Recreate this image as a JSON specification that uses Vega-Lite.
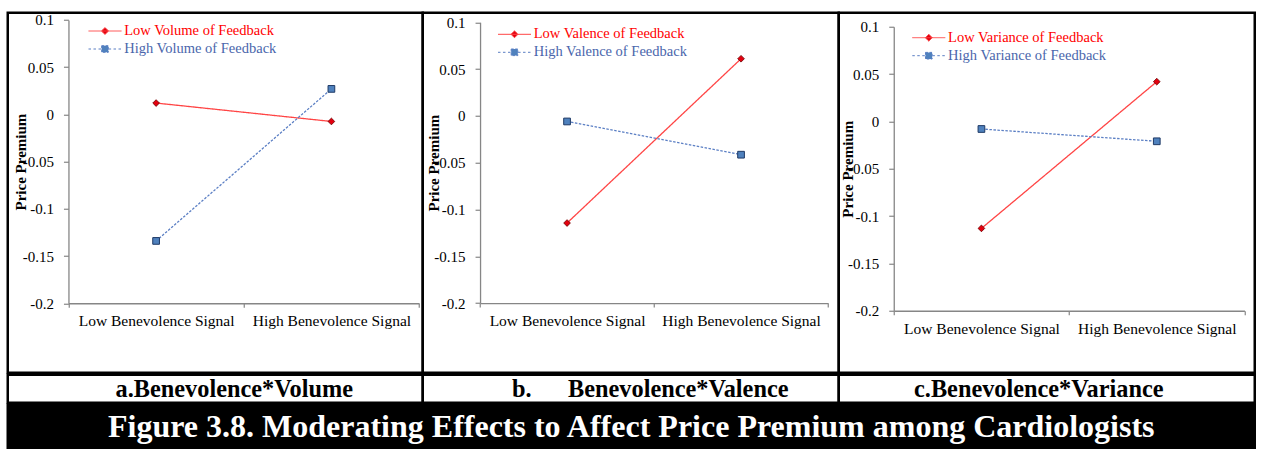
{
  "$schema": "https://vega.github.io/schema/vega-lite/v6.json",
  "padding": {"left": 5.75, "top": 10.75, "right": 0, "bottom": 0},
  "background": "white",
  "config": {
    "font": "Liberation Serif",
    "view": {"stroke": "black", "strokeWidth": 2.5},
    "axis": {"grid": false, "domainColor": "#868686", "tickColor": "#868686", "domainWidth": 1.3, "tickWidth": 1.2, "labelColor": "black", "labelFont": "Liberation Serif", "titleFont": "Liberation Serif", "titleColor": "black"},
    "legend": {"labelFont": "Liberation Serif"},
    "text": {"font": "Liberation Serif"}
  },
  "datasets": {
    "volume": [
      {"signal": "Low Benevolence Signal", "series": "Low Volume of Feedback", "value": 0.012},
      {"signal": "High Benevolence Signal", "series": "Low Volume of Feedback", "value": -0.0075},
      {"signal": "Low Benevolence Signal", "series": "High Volume of Feedback", "value": -0.134},
      {"signal": "High Benevolence Signal", "series": "High Volume of Feedback", "value": 0.027}
    ],
    "valence": [
      {"signal": "Low Benevolence Signal", "series": "Low Valence of Feedback", "value": -0.1145},
      {"signal": "High Benevolence Signal", "series": "Low Valence of Feedback", "value": 0.061},
      {"signal": "Low Benevolence Signal", "series": "High Valence of Feedback", "value": -0.006},
      {"signal": "High Benevolence Signal", "series": "High Valence of Feedback", "value": -0.0415}
    ],
    "variance": [
      {"signal": "Low Benevolence Signal", "series": "Low Variance of Feedback", "value": -0.113},
      {"signal": "High Benevolence Signal", "series": "Low Variance of Feedback", "value": 0.042},
      {"signal": "Low Benevolence Signal", "series": "High Variance of Feedback", "value": -0.008},
      {"signal": "High Benevolence Signal", "series": "High Variance of Feedback", "value": -0.021}
    ]
  },
  "vconcat": [
    {
      "hconcat": [
        {
          "width": 415, "height": 360,
          "data": {"name": "volume"},
          "layer": [
            {
              "mark": {"type": "line", "strokeWidth": 1.3},
              "encoding": {
                "x": {"field": "signal", "type": "nominal", "sort": ["Low Benevolence Signal", "High Benevolence Signal"],
                  "scale": {"domain": ["Low Benevolence Signal", "High Benevolence Signal"], "range": [60.7, 411.3], "paddingInner": 0, "paddingOuter": 0},
                  "axis": {"title": null, "orient": "bottom", "offset": -69.5, "tickBand": "extent", "tickSize": 4, "labelAngle": 0, "labelFont": "Liberation Serif", "labelFontSize": 15.5, "labelBaseline": "alphabetic", "labelPadding": 18.5}},
                "y": {"field": "value", "type": "quantitative",
                  "scale": {"domain": [-0.2, 0.1], "range": [290.5, 7.2], "nice": false, "zero": false},
                  "axis": {"orient": "left", "offset": -60.7, "values": [-0.2, -0.15, -0.1, -0.05, 0, 0.05, 0.1], "labelExpr": "'' + datum.value", "tickSize": 5, "labelPadding": 10, "labelFont": "Liberation Serif", "labelFontSize": 15, "title": "Price Premium", "titleFont": "Liberation Serif", "titleFontWeight": "bold", "titleFontSize": 15, "titleX": -43, "titleY": 148.85, "titleAngle": -90, "titleBaseline": "alphabetic"}},
                "color": {"field": "series", "type": "nominal",
                  "scale": {"domain": ["Low Volume of Feedback", "High Volume of Feedback"], "range": ["#ff4545", "#5b7fc4"]},
                  "legend": {"orient": "none", "legendX": 90, "legendY": 11, "title": null, "padding": 0, "symbolSize": 144, "symbolStrokeWidth": 1, "labelFont": "Liberation Serif", "labelFontSize": 14.5, "labelOffset": 12, "rowPadding": 3, "labelLimit": 300,
                    "encode": {
                      "symbols": {"update": {
                        "shape": {"signal": "indexof(datum.value, 'Low') === 0 ? 'M-2.75,0H2.75M0,-0.58L0.58,0L0,0.58L-0.58,0Z' : 'M-2.75,0H-2.25M-1.92,0H-1.42M-1.08,0H-0.6M0.6,0H1.08M1.42,0H1.92M2.25,0H2.75M-0.55,-0.55H0.55V0.55H-0.55Z'"},
                        "fill": {"signal": "indexof(datum.value, 'Low') === 0 ? '#e3000f' : '#4f81bd'"},
                        "stroke": {"signal": "indexof(datum.value, 'Low') === 0 ? '#ff2020' : '#3a5a9a'"},
                        "strokeDash": {"value": [1, 0]},
                        "opacity": {"value": 1}
                      }},
                      "labels": {"update": {"fill": {"signal": "indexof(datum.value, 'Low') === 0 ? '#ff0000' : '#4a66ac'"}, "font": {"value": "Liberation Serif"}}}
                    }}},
                "strokeDash": {"field": "series", "type": "nominal", "scale": {"domain": ["Low Volume of Feedback", "High Volume of Feedback"], "range": [[1, 0], [2.5, 1.5]]}, "legend": null}
              }
            },
            {
              "transform": [{"filter": "datum.series === 'Low Volume of Feedback'"}],
              "mark": {"type": "point", "shape": "diamond", "filled": true, "fill": "#e3000f", "stroke": "#6b0000", "strokeWidth": 0.8, "size": 45, "opacity": 1},
              "encoding": {"x": {"field": "signal", "type": "nominal"}, "y": {"field": "value", "type": "quantitative"}}
            },
            {
              "transform": [{"filter": "datum.series === 'High Volume of Feedback'"}],
              "mark": {"type": "point", "shape": "square", "filled": true, "fill": "#4f81bd", "stroke": "#1f3a66", "strokeWidth": 1, "size": 45, "opacity": 1},
              "encoding": {"x": {"field": "signal", "type": "nominal"}, "y": {"field": "value", "type": "quantitative"}}
            }
          ]
        },
        {
          "width": 416, "height": 360,
          "data": {"name": "valence"},
          "layer": [
            {
              "mark": {"type": "line", "strokeWidth": 1.3},
              "encoding": {
                "x": {"field": "signal", "type": "nominal", "sort": ["Low Benevolence Signal", "High Benevolence Signal"],
                  "scale": {"domain": ["Low Benevolence Signal", "High Benevolence Signal"], "range": [57.3, 405.3], "paddingInner": 0, "paddingOuter": 0},
                  "axis": {"title": null, "orient": "bottom", "offset": -69.7, "tickBand": "extent", "tickSize": 4, "labelAngle": 0, "labelFont": "Liberation Serif", "labelFontSize": 15.5, "labelBaseline": "alphabetic", "labelPadding": 18.5}},
                "y": {"field": "value", "type": "quantitative",
                  "scale": {"domain": [-0.2, 0.1], "range": [290.3, 9.5], "nice": false, "zero": false},
                  "axis": {"orient": "left", "offset": -57.3, "values": [-0.2, -0.15, -0.1, -0.05, 0, 0.05, 0.1], "labelExpr": "'' + datum.value", "tickSize": 5, "labelPadding": 10, "labelFont": "Liberation Serif", "labelFontSize": 15, "title": "Price Premium", "titleFont": "Liberation Serif", "titleFontWeight": "bold", "titleFontSize": 15, "titleX": -42, "titleY": 149.9, "titleAngle": -90, "titleBaseline": "alphabetic"}},
                "color": {"field": "series", "type": "nominal",
                  "scale": {"domain": ["Low Valence of Feedback", "High Valence of Feedback"], "range": ["#ff4545", "#5b7fc4"]},
                  "legend": {"orient": "none", "legendX": 84.5, "legendY": 14.3, "title": null, "padding": 0, "symbolSize": 144, "symbolStrokeWidth": 1, "labelFont": "Liberation Serif", "labelFontSize": 14.5, "labelOffset": 12, "rowPadding": 3, "labelLimit": 300,
                    "encode": {
                      "symbols": {"update": {
                        "shape": {"signal": "indexof(datum.value, 'Low') === 0 ? 'M-2.75,0H2.75M0,-0.58L0.58,0L0,0.58L-0.58,0Z' : 'M-2.75,0H-2.25M-1.92,0H-1.42M-1.08,0H-0.6M0.6,0H1.08M1.42,0H1.92M2.25,0H2.75M-0.55,-0.55H0.55V0.55H-0.55Z'"},
                        "fill": {"signal": "indexof(datum.value, 'Low') === 0 ? '#e3000f' : '#4f81bd'"},
                        "stroke": {"signal": "indexof(datum.value, 'Low') === 0 ? '#ff2020' : '#3a5a9a'"},
                        "strokeDash": {"value": [1, 0]},
                        "opacity": {"value": 1}
                      }},
                      "labels": {"update": {"fill": {"signal": "indexof(datum.value, 'Low') === 0 ? '#ff0000' : '#4a66ac'"}, "font": {"value": "Liberation Serif"}}}
                    }}},
                "strokeDash": {"field": "series", "type": "nominal", "scale": {"domain": ["Low Valence of Feedback", "High Valence of Feedback"], "range": [[1, 0], [2.5, 1.5]]}, "legend": null}
              }
            },
            {
              "transform": [{"filter": "datum.series === 'Low Valence of Feedback'"}],
              "mark": {"type": "point", "shape": "diamond", "filled": true, "fill": "#e3000f", "stroke": "#6b0000", "strokeWidth": 0.8, "size": 45, "opacity": 1},
              "encoding": {"x": {"field": "signal", "type": "nominal"}, "y": {"field": "value", "type": "quantitative"}}
            },
            {
              "transform": [{"filter": "datum.series === 'High Valence of Feedback'"}],
              "mark": {"type": "point", "shape": "square", "filled": true, "fill": "#4f81bd", "stroke": "#1f3a66", "strokeWidth": 1, "size": 45, "opacity": 1},
              "encoding": {"x": {"field": "signal", "type": "nominal"}, "y": {"field": "value", "type": "quantitative"}}
            }
          ]
        },
        {
          "width": 416, "height": 360,
          "data": {"name": "variance"},
          "layer": [
            {
              "mark": {"type": "line", "strokeWidth": 1.3},
              "encoding": {
                "x": {"field": "signal", "type": "nominal", "sort": ["Low Benevolence Signal", "High Benevolence Signal"],
                  "scale": {"domain": ["Low Benevolence Signal", "High Benevolence Signal"], "range": [55, 405.7], "paddingInner": 0, "paddingOuter": 0},
                  "axis": {"title": null, "orient": "bottom", "offset": -62, "tickBand": "extent", "tickSize": 4, "labelAngle": 0, "labelFont": "Liberation Serif", "labelFontSize": 15.5, "labelBaseline": "alphabetic", "labelPadding": 18.5}},
                "y": {"field": "value", "type": "quantitative",
                  "scale": {"domain": [-0.2, 0.1], "range": [298, 14], "nice": false, "zero": false},
                  "axis": {"orient": "left", "offset": -55, "values": [-0.2, -0.15, -0.1, -0.05, 0, 0.05, 0.1], "labelExpr": "'' + datum.value", "tickSize": 5, "labelPadding": 10, "labelFont": "Liberation Serif", "labelFontSize": 15, "title": "Price Premium", "titleFont": "Liberation Serif", "titleFontWeight": "bold", "titleFontSize": 15, "titleX": -41, "titleY": 156, "titleAngle": -90, "titleBaseline": "alphabetic"}},
                "color": {"field": "series", "type": "nominal",
                  "scale": {"domain": ["Low Variance of Feedback", "High Variance of Feedback"], "range": ["#ff4545", "#5b7fc4"]},
                  "legend": {"orient": "none", "legendX": 82.8, "legendY": 17.7, "title": null, "padding": 0, "symbolSize": 144, "symbolStrokeWidth": 1, "labelFont": "Liberation Serif", "labelFontSize": 14.5, "labelOffset": 12, "rowPadding": 3, "labelLimit": 300,
                    "encode": {
                      "symbols": {"update": {
                        "shape": {"signal": "indexof(datum.value, 'Low') === 0 ? 'M-2.75,0H2.75M0,-0.58L0.58,0L0,0.58L-0.58,0Z' : 'M-2.75,0H-2.25M-1.92,0H-1.42M-1.08,0H-0.6M0.6,0H1.08M1.42,0H1.92M2.25,0H2.75M-0.55,-0.55H0.55V0.55H-0.55Z'"},
                        "fill": {"signal": "indexof(datum.value, 'Low') === 0 ? '#e3000f' : '#4f81bd'"},
                        "stroke": {"signal": "indexof(datum.value, 'Low') === 0 ? '#ff2020' : '#3a5a9a'"},
                        "strokeDash": {"value": [1, 0]},
                        "opacity": {"value": 1}
                      }},
                      "labels": {"update": {"fill": {"signal": "indexof(datum.value, 'Low') === 0 ? '#ff0000' : '#4a66ac'"}, "font": {"value": "Liberation Serif"}}}
                    }}},
                "strokeDash": {"field": "series", "type": "nominal", "scale": {"domain": ["Low Variance of Feedback", "High Variance of Feedback"], "range": [[1, 0], [2.5, 1.5]]}, "legend": null}
              }
            },
            {
              "transform": [{"filter": "datum.series === 'Low Variance of Feedback'"}],
              "mark": {"type": "point", "shape": "diamond", "filled": true, "fill": "#e3000f", "stroke": "#6b0000", "strokeWidth": 0.8, "size": 45, "opacity": 1},
              "encoding": {"x": {"field": "signal", "type": "nominal"}, "y": {"field": "value", "type": "quantitative"}}
            },
            {
              "transform": [{"filter": "datum.series === 'High Variance of Feedback'"}],
              "mark": {"type": "point", "shape": "square", "filled": true, "fill": "#4f81bd", "stroke": "#1f3a66", "strokeWidth": 1, "size": 45, "opacity": 1},
              "encoding": {"x": {"field": "signal", "type": "nominal"}, "y": {"field": "value", "type": "quantitative"}}
            }
          ]
        }
      ],
      "spacing": 0,
      "bounds": "flush",
      "resolve": {"scale": {"x": "independent", "y": "independent", "color": "independent", "strokeDash": "independent"}, "legend": {"color": "independent", "strokeDash": "independent"}, "axis": {"x": "independent", "y": "independent"}}
    },
    {
      "hconcat": [
        {
          "width": 415, "height": 28,
          "view": {"stroke": "black", "strokeWidth": 2.5},
          "data": {"values": [{"caption": "a.Benevolence*Volume"}]},
          "mark": {"type": "text", "font": "Liberation Serif", "fontWeight": "bold", "fontSize": 24.3, "baseline": "alphabetic", "dy": 8.5, "dx": 19, "color": "black"},
          "encoding": {"text": {"field": "caption"}}
        },
        {
          "width": 416, "height": 28,
          "view": {"stroke": "black", "strokeWidth": 2.5},
          "data": {"values": [{"caption": "b.\u00a0\u00a0\u00a0\u00a0\u00a0\u00a0Benevolence*Valence"}]},
          "mark": {"type": "text", "font": "Liberation Serif", "fontWeight": "bold", "fontSize": 24.3, "baseline": "alphabetic", "dy": 8.5, "dx": 19.5, "color": "black"},
          "encoding": {"text": {"field": "caption"}}
        },
        {
          "width": 416, "height": 28,
          "view": {"stroke": "black", "strokeWidth": 2.5},
          "data": {"values": [{"caption": "c.Benevolence*Variance"}]},
          "mark": {"type": "text", "font": "Liberation Serif", "fontWeight": "bold", "fontSize": 24.3, "baseline": "alphabetic", "dy": 8.5, "dx": -8, "color": "black"},
          "encoding": {"text": {"field": "caption"}}
        }
      ],
      "spacing": 0,
      "bounds": "flush"
    },
    {
      "width": 1247, "height": 49,
      "view": {"fill": "black", "stroke": "black", "strokeWidth": 2.5},
      "data": {"values": [{"title": "Figure 3.8. Moderating Effects to Affect Price Premium among Cardiologists"}]},
      "mark": {"type": "text", "font": "Liberation Serif", "fontWeight": "bold", "fontSize": 32, "baseline": "alphabetic", "dy": 8, "color": "white"},
      "encoding": {"text": {"field": "title"}}
    }
  ],
  "spacing": -2.5,
  "bounds": "full"
}
